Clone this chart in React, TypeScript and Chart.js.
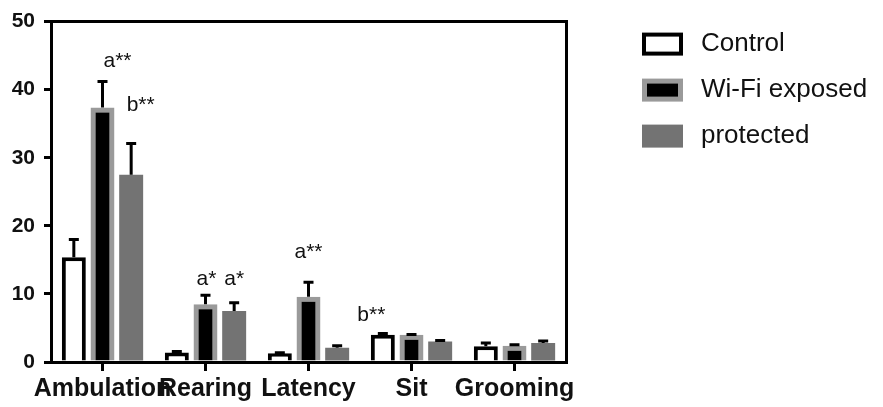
import React, { useEffect, useRef } from 'react';
import { Chart, registerables } from 'chart.js';

Chart.register(...registerables);

const categories = ['Ambulation', 'Rearing', 'Latency', 'Sit', 'Grooming'];
const seriesNames = ['Control', 'Wi-Fi exposed', 'protected'];

const controlMeans = [15.4, 1.4, 1.3, 4.0, 2.3];
const controlErrors = [2.6, 0.15, 0.05, 0.2, 0.5];
const wifiMeans = [37.4, 8.5, 9.6, 4.0, 2.4];
const wifiErrors = [3.8, 1.3, 2.1, 0.05, 0.15];
const protectedMeans = [27.5, 7.5, 2.1, 3.0, 2.8];
const protectedErrors = [4.6, 1.2, 0.3, 0.15, 0.3];

const yMin = 0;
const yMax = 50;
const yStep = 10;

// significance labels: dataset index, category index, y value (data units), x nudge
const annotations = [
  { text: 'a**', dataset: 1, index: 0, y: 44.2, dx: 15 },
  { text: 'b**', dataset: 2, index: 0, y: 37.7, dx: 9.5 },
  { text: 'a*', dataset: 1, index: 1, y: 12.1, dx: 1 },
  { text: 'a*', dataset: 2, index: 1, y: 12.1, dx: 0 },
  { text: 'a**', dataset: 1, index: 2, y: 16.1, dx: 0 },
  { text: 'b**', dataset: 0, index: 3, y: 6.9, dx: -11.5 },
];

const FONT = "'Liberation Sans', Arial, sans-serif";

const errorBarPlugin = {
  id: 'errorBars',
  afterDatasetsDraw(chart: any) {
    const ctx = chart.ctx;
    const yScale = chart.scales.y;
    ctx.save();
    ctx.strokeStyle = '#000';
    ctx.lineWidth = 3;
    ctx.lineCap = 'butt';
    chart.data.datasets.forEach((ds: any, di: number) => {
      const meta = chart.getDatasetMeta(di);
      meta.data.forEach((el: any, i: number) => {
        const mean = ds.data[i];
        const err = ds.errors[i];
        const yTop = yScale.getPixelForValue(mean + err);
        const yBar = yScale.getPixelForValue(mean);
        ctx.beginPath();
        ctx.moveTo(el.x, yBar);
        ctx.lineTo(el.x, yTop);
        ctx.moveTo(el.x - 5, yTop);
        ctx.lineTo(el.x + 5, yTop);
        ctx.stroke();
      });
    });
    ctx.restore();
  },
};

const annotationPlugin = {
  id: 'sigLabels',
  afterDraw(chart: any) {
    const ctx = chart.ctx;
    const yScale = chart.scales.y;
    ctx.save();
    ctx.font = `21px ${FONT}`;
    ctx.fillStyle = '#111';
    ctx.textAlign = 'center';
    ctx.textBaseline = 'middle';
    annotations.forEach((a) => {
      const el = chart.getDatasetMeta(a.dataset).data[a.index];
      ctx.fillText(a.text, el.x + a.dx, yScale.getPixelForValue(a.y));
    });
    ctx.restore();
  },
};

const legendPlugin = {
  id: 'sideLegend',
  afterDraw(chart: any) {
    const ctx = chart.ctx;
    const area = chart.chartArea;
    const bx = area.right + 76;
    const by = area.top + 11;
    const bw = 41;
    const bh = 23;
    const rowGap = 46;
    ctx.save();
    chart.data.datasets.forEach((ds: any, i: number) => {
      const y = by + i * rowGap;
      const bwid = ds.borderWidth || 0;
      if (bwid > 0) {
        ctx.fillStyle = ds.borderColor;
        ctx.fillRect(bx, y, bw, bh);
        ctx.fillStyle = ds.backgroundColor;
        ctx.fillRect(bx + bwid, y + bwid, bw - 2 * bwid, bh - 2 * bwid);
      } else {
        ctx.fillStyle = ds.backgroundColor;
        ctx.fillRect(bx, y, bw, bh);
      }
      ctx.fillStyle = '#111';
      ctx.font = `26px ${FONT}`;
      ctx.textAlign = 'left';
      ctx.textBaseline = 'middle';
      ctx.fillText(ds.label, bx + bw + 18, y + bh / 2);
    });
    ctx.restore();
  },
};

export default function App() {
  const canvasRef = useRef<HTMLCanvasElement | null>(null);

  useEffect(() => {
    if (!canvasRef.current) return;
    const chart = new Chart(canvasRef.current, {
      type: 'bar',
      data: {
        labels: categories,
        datasets: [
          {
            label: seriesNames[0],
            data: controlMeans,
            errors: controlErrors,
            backgroundColor: '#ffffff',
            borderColor: '#000000',
            borderWidth: 4,
            xAxisID: 'x',
            yAxisID: 'y',
          } as any,
          {
            label: seriesNames[1],
            data: wifiMeans,
            errors: wifiErrors,
            backgroundColor: '#000000',
            borderColor: '#9a9a9a',
            borderWidth: 5,
            xAxisID: 'x',
            yAxisID: 'y',
          } as any,
          {
            label: seriesNames[2],
            data: protectedMeans,
            errors: protectedErrors,
            backgroundColor: '#737373',
            borderWidth: 0,
            xAxisID: 'x',
            yAxisID: 'y',
          } as any,
        ],
      },
      options: {
        responsive: false,
        animation: false,
        devicePixelRatio: 1,
        layout: { padding: { left: 0, right: 315, top: 0, bottom: 0 } },
        datasets: {
          bar: { categoryPercentage: 0.835, barPercentage: 0.836 },
        },
        plugins: {
          legend: { display: false },
          tooltip: { enabled: false },
        },
        scales: {
          x: {
            type: 'category',
            position: 'bottom',
            z: 1,
            grid: {
              display: true,
              drawOnChartArea: false,
              drawTicks: true,
              tickLength: 9,
              color: '#000',
              lineWidth: 3,
              offset: false,
            },
            border: { display: true, color: '#000', width: 3 },
            ticks: {
              autoSkip: false,
              maxRotation: 0,
              minRotation: 0,
              padding: 3,
              color: '#111',
              font: { family: FONT, size: 25, weight: 'bold' },
            },
            afterFit: (s: any) => {
              s.height = 45;
            },
          },
          x2: {
            type: 'linear',
            position: 'top',
            min: 0,
            max: 1,
            grid: { display: false },
            ticks: { display: false },
            border: { display: true, color: '#000', width: 3 },
            afterFit: (s: any) => {
              s.height = 21;
            },
          },
          y: {
            type: 'linear',
            position: 'left',
            min: yMin,
            max: yMax,
            z: 1,
            ticks: {
              stepSize: yStep,
              padding: 9,
              color: '#111',
              font: { family: FONT, size: 21, weight: 'bold' },
            },
            grid: {
              display: true,
              drawOnChartArea: false,
              drawTicks: true,
              tickLength: 7,
              color: '#000',
              lineWidth: 3,
            },
            border: { display: true, color: '#000', width: 3 },
            afterFit: (s: any) => {
              s.width = 51;
            },
          },
          y2: {
            type: 'linear',
            position: 'right',
            min: yMin,
            max: yMax,
            grid: { display: false },
            ticks: { display: false },
            border: { display: true, color: '#000', width: 3 },
            afterFit: (s: any) => {
              s.width = 2;
            },
          },
        },
      } as any,
      plugins: [errorBarPlugin, annotationPlugin, legendPlugin],
    });
    return () => chart.destroy();
  }, []);

  return (
    <div style={{ position: 'fixed', left: 0, top: 0, width: 883, height: 407, background: '#fff' }}>
      <canvas ref={canvasRef} width={883} height={407} style={{ display: 'block', width: 883, height: 407 }} />
    </div>
  );
}
